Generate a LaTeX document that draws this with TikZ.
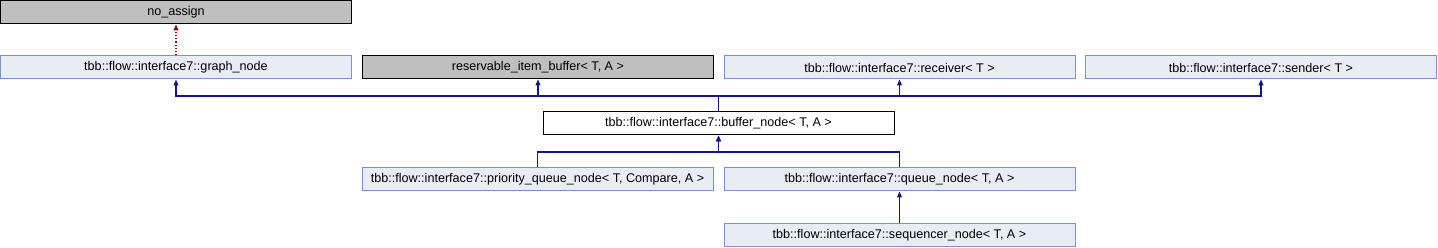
\documentclass[tikz,border=0pt]{standalone}
\usepackage{fontspec}
\setmainfont{Liberation Sans}
\usetikzlibrary{arrows.meta}
\definecolor{classfill}{RGB}{232,236,245}
\definecolor{classline}{RGB}{122,146,204}
\definecolor{grayfill}{RGB}{191,191,191}
\definecolor{edgeblue}{RGB}{20,20,140}
\definecolor{edgered}{RGB}{139,10,10}
\tikzset{
    classbox/.style={
        draw=classline,
        fill=classfill,
        line width=1pt,
        minimum width=351pt,
        minimum height=23pt,
        inner sep=0pt,
        font=\fontsize{12.6}{14}\selectfont
    },
    % grey boxes for classes without documentation
    graybox/.style={classbox, draw=black, fill=grayfill},
    % the class this diagram is about
    mainbox/.style={classbox, draw=black, fill=white},
    inheritarrow/.style={
        line width=1.2pt,
        edgeblue,
        -{Triangle[length=6pt, width=5pt]}
    },
    usagearrow/.style={
        line width=1.2pt,
        edgered,
        dotted,
        -{Triangle[length=6pt, width=5pt]}
    }
}
\begin{document}
\begin{tikzpicture}[x=1pt,y=-1pt]
    \useasboundingbox (0,0) rectangle (1438,248);

    \node[graybox] (noassign) at (176,12.5) {no\_assign};

    \node[classbox] (graphnode) at (176,67.5) {tbb::flow::interface7::graph\_node};
    \node[graybox]  (reserve)   at (538,67.5) {reservable\_item\_buffer< T, A >};
    \node[classbox] (receiver)  at (899.5,67.5) {tbb::flow::interface7::receiver< T >};
    \node[classbox] (sender)    at (1261,67.5) {tbb::flow::interface7::sender< T >};

    \node[mainbox] (buffer) at (718.5,123.5) {tbb::flow::interface7::buffer\_node< T, A >};

    \node[classbox] (prio)  at (537.5,179.5) {tbb::flow::interface7::priority\_queue\_node< T, Compare, A >};
    \node[classbox] (queue) at (899.5,179.5) {tbb::flow::interface7::queue\_node< T, A >};
    \node[classbox] (seq)   at (899.5,235.5) {tbb::flow::interface7::sequencer\_node< T, A >};

    \coordinate (busA) at (0,96);
    \coordinate (busB) at (0,152);

    \draw[usagearrow] (graphnode.north) -- (noassign.south);
    \foreach \p in {graphnode,reserve,receiver,sender}
        \draw[inheritarrow] (buffer.north) |- (\p.south |- busA) -- (\p.south);
    \foreach \c in {prio,queue}
        \draw[inheritarrow] (\c.north) |- (buffer.south |- busB) -- (buffer.south);
    \draw[inheritarrow] (seq.north) -- (queue.south);
\end{tikzpicture}
\end{document}
